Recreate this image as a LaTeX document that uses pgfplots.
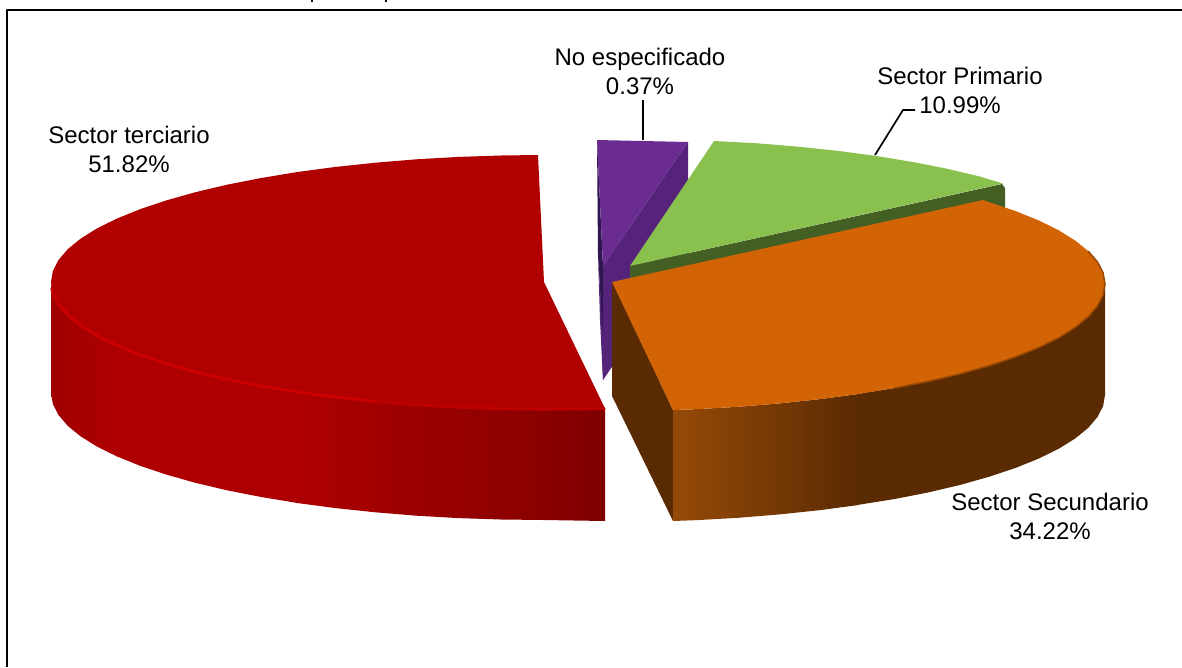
\documentclass[border=0pt]{standalone}
\usepackage{pgfplots}
\usepackage{fontspec}
\setmainfont{Liberation Sans}
\pgfplotsset{compat=1.18}
\definecolor{redtop}{HTML}{B00000}
\definecolor{redwall}{HTML}{AE0000}
\definecolor{reddark}{HTML}{800000}
\definecolor{redleft}{HTML}{A00000}
\definecolor{ortop}{HTML}{D26405}
\definecolor{orwall}{HTML}{5A2A03}
\definecolor{orlight}{HTML}{964A08}
\definecolor{grtop}{HTML}{8AC14E}
\definecolor{grwall}{HTML}{435F24}
\definecolor{putop}{HTML}{6B2C91}
\definecolor{puwall}{HTML}{55237A}
\definecolor{pudark}{HTML}{2F1650}
\begin{document}
\begin{tikzpicture}
\useasboundingbox (0,0) rectangle (1182pt,667pt);
\begin{axis}[
  at={(0,0)}, anchor=south west,
  scale only axis, width=1182pt, height=667pt,
  xmin=0, xmax=1182, ymin=0, ymax=667, y dir=reverse,
  axis lines=none, no markers, clip=true,
  every axis plot/.append style={line join=round},
]
% frame and clipped title descenders
\addplot[black, line width=2pt, forget plot] coordinates {(7,667) (7,10) (1182,10)};
\addplot[black, line width=1.6pt, forget plot] coordinates {(312,0) (312,1.5)};
\addplot[black, line width=1.6pt, forget plot] coordinates {(386,0) (386,1.5)};
% purple slice
\addplot[draw=none, fill=puwall, forget plot] coordinates {(688,142) (688,255) (603,380) (600,300) (603,266)} --cycle;
\addplot[draw=none, fill=pudark, forget plot] coordinates {(597,140) (603,266) (603,340) (598,255)} --cycle;
\addplot[draw=none, fill=puwall, forget plot] coordinates {(598,255) (603,340) (603,380) (600,320)} --cycle;
\addplot[draw=none, fill=putop, forget plot] coordinates {(597,140) (688,142) (603,266)} --cycle;
% green slice
\addplot[draw=none, fill=grwall, forget plot] coordinates {(630,266) (1002,184) (1005,188) (1005,300) (630,390)} --cycle;
\addplot[draw=none, fill=grtop, forget plot] coordinates {(630,266) (714,141) (757.6,143.3) (798.6,146.7) (838.3,150.9) (876.5,156) (912.8,162) (946.9,168.7) (978.6,176.2) (1003,183.5)} --cycle;
% orange slice walls
\addplot[draw=none, fill=orwall, forget plot] coordinates {(612,282) (673,410) (673,521) (612,396)} --cycle;
\addplot[draw=none, left color=orlight, right color=orwall, forget plot] coordinates {(673,410) (697.6,409.1) (739.6,406.7) (780.6,403.3) (820.3,399.1) (858.5,394) (858.5,505) (820.3,510.1) (780.6,514.3) (739.6,517.7) (697.6,520.1) (673,521)} --cycle;
\addplot[draw=none, fill=orwall, forget plot] coordinates {(857,394) (894.8,388) (928.9,381.3) (960.6,373.8) (989.6,365.6) (1015.9,356.8) (1038.9,347.5) (1058.8,337.7) (1075.3,327.4) (1088.2,316.9) (1097.5,306) (1103.1,295.1) (1105,284) (1105,395) (1103.1,406.1) (1097.5,417) (1088.2,427.9) (1075.3,438.4) (1058.8,448.7) (1038.9,458.5) (1015.9,467.8) (989.6,476.6) (960.6,484.8) (928.9,492.3) (894.8,499) (857,505)} --cycle;
% orange top
\addplot[draw=none, fill=ortop, forget plot] coordinates {(612,282) (983,200) (989.6,202.4) (1015.9,211.2) (1038.9,220.5) (1058.8,230.3) (1075.3,240.6) (1088.2,251.1) (1097.5,262) (1103.1,272.9) (1105,284) (1103.1,295.1) (1097.5,306) (1088.2,316.9) (1075.3,327.4) (1058.8,337.7) (1038.9,347.5) (1015.9,356.8) (989.6,365.6) (960.6,373.8) (928.9,381.3) (894.8,388) (858.5,394) (820.3,399.1) (780.6,403.3) (739.6,406.7) (697.6,409.1) (673,410)} --cycle;
\addplot[color=orwall!50!ortop, line width=1.5pt, forget plot] coordinates {(1088.2,251.1) (1097.5,262) (1103.1,272.9) (1105,284) (1103.1,295.1) (1097.5,306) (1088.2,316.9) (1075.3,327.4) (1058.8,337.7) (1038.9,347.5) (1015.9,356.8) (989.6,365.6) (960.6,373.8) (928.9,381.3) (894.8,388)};
% red slice walls
\addplot[draw=none, left color=redleft, right color=redwall, forget plot] coordinates {(51,282) (52.9,293.1) (58.5,304) (67.8,314.9) (80.7,325.4) (97.2,335.7) (117.1,345.5) (117.1,456.5) (97.2,446.7) (80.7,436.4) (67.8,425.9) (58.5,415) (52.9,404.1) (51,393)} --cycle;
\addplot[draw=none, fill=redwall, forget plot] coordinates {(116,345) (140.1,354.8) (166.4,363.6) (195.4,371.8) (227.1,379.3) (261.2,386) (297.5,392) (297.5,503) (261.2,497) (227.1,490.3) (195.4,482.8) (166.4,474.6) (140.1,465.8) (116,456)} --cycle;
\addplot[draw=none, left color=redwall, right color=reddark, forget plot] coordinates {(297,392) (335.7,397.1) (375.4,401.3) (416.4,404.7) (458.4,407.1) (501,408.5) (544,409) (605,408.5) (605,521) (544,520) (501,519.5) (458.4,518.1) (416.4,515.7) (375.4,512.3) (335.7,508.1) (297,503)} --cycle;
% red top
\addplot[draw=none, fill=redtop, forget plot] coordinates {(544,282) (538,155) (501,155.5) (458.4,156.9) (416.4,159.3) (375.4,162.7) (335.7,166.9) (297.5,172) (261.2,178) (227.1,184.7) (195.4,192.2) (166.4,200.4) (140.1,209.2) (117.1,218.5) (97.2,228.3) (80.7,238.6) (67.8,249.1) (58.5,260) (52.9,270.9) (51,282) (52.9,293.1) (58.5,304) (67.8,314.9) (80.7,325.4) (97.2,335.7) (117.1,345.5) (140.1,354.8) (166.4,363.6) (195.4,371.8) (227.1,379.3) (261.2,386) (297.5,392) (335.7,397.1) (375.4,401.3) (416.4,404.7) (458.4,407.1) (501,408.5) (544,409) (605,408.5)} --cycle;
% red rim highlight
\addplot[color=red!74!black, line width=3.2pt, line cap=round, forget plot] coordinates {(52,288) (52.9,293.1) (58.5,304) (67.8,314.9) (80.7,325.4) (97.2,335.7) (117.1,345.5) (140.1,354.8) (166.4,363.6) (195.4,371.8) (227.1,379.3) (261.2,386) (297.5,392) (335.7,397.1) (375.4,401.3) (416.4,404.7) (458.4,407.1) (501,408.5) (544,409) (604,408.5)};
\addplot[color=red!82!black, line width=1.8pt, line cap=round, forget plot] coordinates {(58.5,304) (67.8,314.9) (80.7,325.4) (97.2,335.7) (117.1,345.5) (140.1,354.8) (166.4,363.6) (195.4,371.8) (227.1,379.3) (261.2,386) (297.5,392) (335.7,397.1) (375.4,401.3)};
% leader lines
\addplot[black, line width=1.7pt, forget plot] coordinates {(643,100) (643,140)};
\addplot[black, line width=1.7pt, forget plot] coordinates {(875,155) (903,110) (915,110)};
% labels
\node[align=center, font=\fontsize{24}{29}\selectfont, inner sep=0pt] at (axis cs:640,71.5) {No especificado\\0.37\%};
\node[align=center, font=\fontsize{24}{29}\selectfont, inner sep=0pt] at (axis cs:960,90) {Sector Primario\\10.99\%};
\node[align=center, font=\fontsize{24}{29}\selectfont, inner sep=0pt] at (axis cs:129,149.5) {Sector terciario\\51.82\%};
\node[align=center, font=\fontsize{24}{29}\selectfont, inner sep=0pt] at (axis cs:1050,516.5) {Sector Secundario\\34.22\%};
\end{axis}
\end{tikzpicture}
\end{document}
